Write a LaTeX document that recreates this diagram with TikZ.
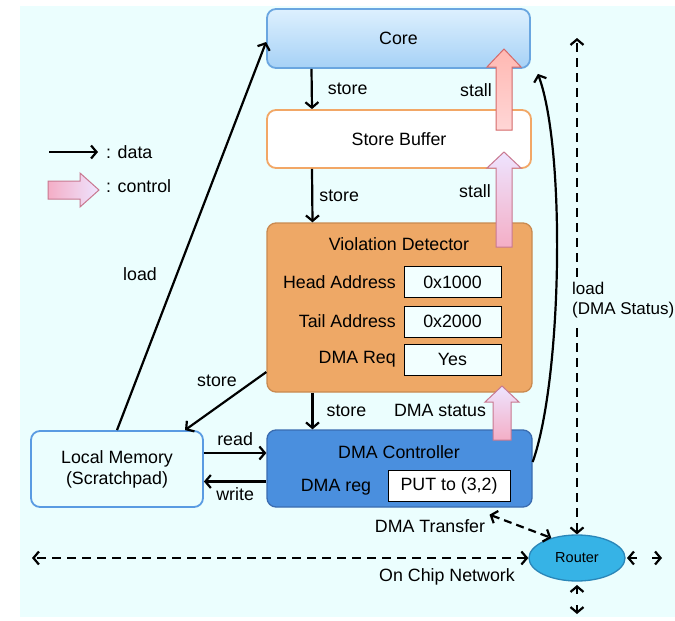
\documentclass[tikz,border=0pt]{standalone}
\usepackage{fontspec}
\setmainfont{Liberation Sans}
\usetikzlibrary{arrows.meta,shapes.geometric,calc}
\definecolor{bg}{HTML}{EBFEFE}
\definecolor{coretop}{HTML}{DDF0FE}
\definecolor{corebot}{HTML}{A6D1F6}
\definecolor{coreline}{HTML}{6AA6E0}
\definecolor{sbline}{HTML}{F2A766}
\definecolor{vdfill}{HTML}{EEA866}
\definecolor{vdline}{HTML}{C98A50}
\definecolor{dmafill}{HTML}{4A8FDE}
\definecolor{dmaline}{HTML}{3A6CB0}
\definecolor{lmline}{HTML}{5A9BE2}
\definecolor{routerfill}{HTML}{36B3E6}
\definecolor{routerline}{HTML}{2A86B8}
\definecolor{valfill}{HTML}{F2FFFF}
\definecolor{redtop}{HTML}{FFB8B2}
\definecolor{redbot}{HTML}{FFD6D6}
\definecolor{redline}{HTML}{D46A6A}
\definecolor{lavtop}{HTML}{EEE4FF}
\definecolor{pinkbot}{HTML}{F4AEC6}
\definecolor{pinkline}{HTML}{C87890}
\begin{document}
\begin{tikzpicture}[x=1pt,y=-1pt,
  font=\fontsize{17.8}{21}\selectfont,
  box/.style={draw, rounded corners=9pt, line width=1.8pt, align=center, inner sep=0pt},
  valbox/.style={draw=black, line width=1pt, fill=valfill, minimum height=31pt, inner sep=0pt},
  lbl/.style={inner sep=0pt},
  dataarrow/.style={line width=2.2pt, -{Straight Barb[length=5.5pt,width=13pt]}},
  netarrow/.style={line width=2.2pt, dash pattern=on 9pt off 6pt,
    {Straight Barb[length=5.5pt,width=13pt]}-{Straight Barb[length=5.5pt,width=13pt]}},
  stubarrow/.style={line width=2.2pt, -{Straight Barb[length=5.5pt,width=13pt]}},
  ctrlred/.style={top color=redtop, bottom color=redbot, draw=redline, line width=1pt},
  ctrlpink/.style={top color=lavtop, bottom color=pinkbot, draw=pinkline, line width=1pt}
]
\useasboundingbox (0,0) rectangle (675,621);
\fill[bg] (20,6) rectangle (675,617);

% boxes
\node[box, draw=coreline, top color=coretop, bottom color=corebot,
  minimum width=263pt, minimum height=59pt] (core) at (398.5,38.5) {Core};
\node[box, draw=sbline, fill=white, minimum width=264pt, minimum height=58pt] (sb) at (399,139) {Store Buffer};
\node[box, draw=vdline, fill=vdfill, line width=1.3pt, minimum width=265pt, minimum height=169pt] (vd) at (399.5,307.5) {};
\node[lbl] (vdtitle) at (399,244) {Violation Detector};
\node[lbl, anchor=east] (headl) at (396,282) {Head Address};
\node[valbox, minimum width=97pt] (headv) at (452.5,282) {0x1000};
\node[lbl, anchor=east] (taill) at (396,321.5) {Tail Address};
\node[valbox, minimum width=97pt] (tailv) at (452.5,321.5) {0x2000};
\node[lbl, anchor=east] (reql) at (396,359.5) {DMA Req};
\node[valbox, minimum width=97pt] (reqv) at (452.5,359.5) {Yes};

\node[box, draw=dmaline, fill=dmafill, line width=1.3pt, minimum width=265pt, minimum height=77pt] (dma) at (399.5,468.5) {};
\node[lbl] (dmatitle) at (399,452) {DMA Controller};
\node[lbl] (dmareg) at (336,487) {DMA reg};
\node[valbox, fill=white, minimum width=122pt] (dmaregv) at (449,485.5) {PUT to (3,2)};

\node[box, draw=lmline, fill=bg, minimum width=172pt, minimum height=76pt] (lm) at (117,469) {Local Memory\\(Scratchpad)};

\node[ellipse, draw=routerline, fill=routerfill, line width=1.3pt, minimum width=96pt, minimum height=46pt,
  inner sep=0pt, font=\fontsize{14.5}{16}\selectfont] (router) at (577,558) {Router};

% legend
\coordinate (legA) at (49,152);
\coordinate (legB) at (98,152);
\draw[dataarrow] (legA) -- (legB);
\node[lbl, anchor=west] (legdata) at (106,152) {: data};
\shade[left color=pinkbot, right color=lavtop, draw=pinkline, line width=1pt]
  (48,181) -- (80,181) -- (80,173) -- (99,190) -- (80,207) -- (80,199) -- (48,199) -- cycle;
\node[lbl, anchor=west] (legctrl) at (106,186) {: control};

% data connectors
\draw[dataarrow] ([xshift=-87pt]core.south) -- ([xshift=-87pt]sb.north)
  node[lbl, midway, right, xshift=15pt] (st1) {store};
\draw[dataarrow] ([xshift=-87pt]sb.south) -- ([xshift=-87pt]vd.north)
  node[lbl, midway, right, xshift=6pt] (st2) {store};
\draw[dataarrow] ([xshift=-87pt]vd.south) -- ([xshift=-87pt]dma.north)
  node[lbl, midway, right, xshift=13pt] (st3) {store};
\draw[dataarrow] ([yshift=-64.5pt]vd.west) -- ([xshift=68pt]lm.north);
\node[lbl] (st4) at (217,381) {store};
\draw[dataarrow] (lm.north) -- ([yshift=-3.5pt]core.west);
\node[lbl] (ld1) at (140,274) {load};
\draw[dataarrow] ([yshift=16pt]lm.east) -- ([yshift=16pt]lm.east -| dma.west)
  node[lbl, midway, above, yshift=6pt] (rd) {read};
\draw[dataarrow] ([yshift=-13pt]dma.west) -- ([yshift=-13pt]dma.west -| lm.east)
  node[lbl, midway, below, yshift=-5pt] (wr) {write};
\draw[dataarrow] ([yshift=6.5pt]dma.east) .. controls (562,380) and (566,150) .. ([xshift=7pt,yshift=-5pt]core.south east);

% network
\coordinate (nettop) at (577,38);
\coordinate (netleft) at (32,558);
\coordinate (netr0a) at (637,558);
\coordinate (netr1) at (627,558);
\coordinate (netr0b) at (652,558);
\coordinate (netr2) at (662,558);
\coordinate (netb0a) at (577,594);
\coordinate (netb1) at (577,585);
\coordinate (netb0b) at (577,605);
\coordinate (netb2) at (577,614);
\draw[netarrow] (router.north) -- (nettop);
\node[lbl, anchor=west, fill=bg, align=left, inner ysep=4pt, inner xsep=1pt,
  font=\fontsize{17}{20}\selectfont] (ldstat) at (571,300) {load\\(DMA Status)};
\draw[netarrow] (router.west) -- (netleft);
\draw[stubarrow] (netr0a) -- (netr1);
\draw[stubarrow] (netr0b) -- (netr2);
\draw[stubarrow] (netb0a) -- (netb1);
\draw[stubarrow] (netb0b) -- (netb2);
\draw[netarrow, dash pattern=on 8pt off 5pt] ([xshift=90pt,yshift=-7pt]dma.south) -- (router.142);
\node[lbl] (dmatr) at (430,526) {DMA Transfer};
\node[lbl] (ocn) at (447,577) {On Chip Network};

% control arrows
\shade[ctrlred] (504,49) -- (521,67) -- (512,67) -- (512,130) -- (496,130) -- (496,67) -- (487,67) -- cycle;
\node[lbl] (stall1) at (476,90) {stall};
\shade[ctrlpink] (504,152) -- (521,168) -- (512,168) -- (512,247) -- (496,247) -- (496,168) -- (487,168) -- cycle;
\node[lbl] (stall2) at (475,191) {stall};
\shade[ctrlpink] (502,386) -- (519,402) -- (511,402) -- (511,440) -- (493,440) -- (493,402) -- (485,402) -- cycle;
\node[lbl] (dmast) at (440,410) {DMA status};
\end{tikzpicture}
\end{document}
